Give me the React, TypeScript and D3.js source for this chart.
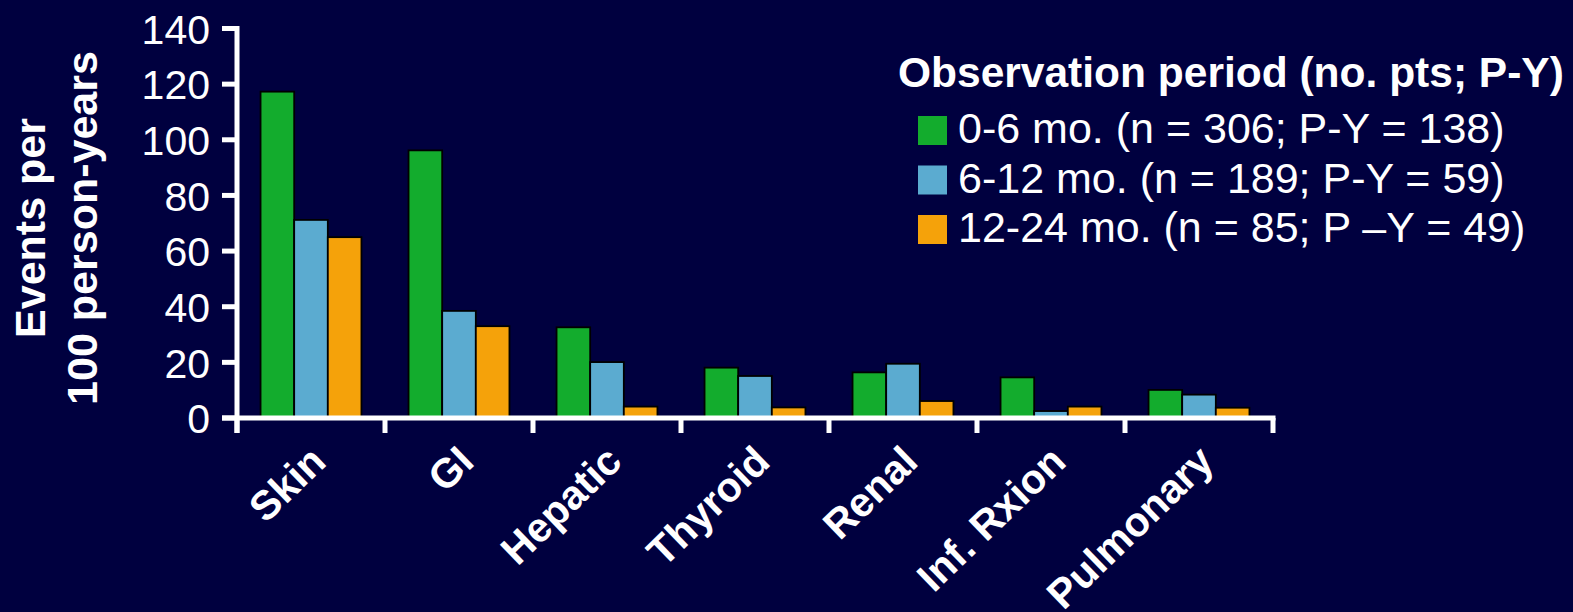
import React from "react";
import * as d3 from "d3";

const categories = ["Skin", "GI", "Hepatic", "Thyroid", "Renal", "Inf. Rxion", "Pulmonary"];
const seriesKeys = ["0-6", "6-12", "12-24"];
const seriesLabels = [
  "0-6 mo. (n = 306; P-Y = 138)",
  "6-12 mo. (n = 189; P-Y = 59)",
  "12-24 mo. (n = 85; P \u2013Y = 49)",
];
const values0to6 = [117.3, 96.2, 32.6, 18.1, 16.4, 14.6, 10.1];
const values6to12 = [71.2, 38.5, 20.1, 15.1, 19.5, 2.5, 8.4];
const values12to24 = [65, 33, 4.1, 3.8, 6.1, 4.1, 3.7];
const yTicks = [0, 20, 40, 60, 80, 100, 120, 140];
const legendTitle = "Observation period (no. pts; P-Y)";
const yTitleLines = ["Events per", "100 person-years"];

const colors = ["#13AC2D", "#5BABD0", "#F5A20A"];
const BG = "#00003F";
const FONT = "'Liberation Sans', Arial, Helvetica, sans-serif";

export default function App() {
  const W = 1573;
  const H = 612;
  const x0 = 237;
  const x1 = 1273;
  const yBase = 418;
  const yTop = 28.5;

  const series = [values0to6, values6to12, values12to24];

  const x = d3.scaleBand<string>().domain(categories).range([x0, x1]).paddingInner(0).paddingOuter(0);
  const xs = d3
    .scaleBand<string>()
    .domain(seriesKeys)
    .range([0, x.bandwidth()])
    .paddingInner(0)
    .paddingOuter(0.7);
  const y = d3.scaleLinear().domain([0, 140]).range([yBase, yTop]);

  const boundaries = [...categories.map((c) => x(c)!), x1];

  return (
    <svg
      width={W}
      height={H}
      style={{ position: "absolute", left: 0, top: 0, background: BG, display: "block" }}
      fontFamily={FONT}
    >
      <rect x={0} y={0} width={W} height={H} fill={BG} />

      {/* Bars */}
      {categories.map((c, i) => (
        <g key={c}>
          {series.map((vals, s) => (
            <rect
              key={s}
              x={x(c)! + xs(seriesKeys[s])!}
              y={y(vals[i])}
              width={xs.bandwidth()}
              height={yBase - y(vals[i])}
              fill={colors[s]}
              stroke="#000"
              strokeWidth={1.8}
            />
          ))}
        </g>
      ))}

      {/* Y axis */}
      <line x1={x0} x2={x0} y1={y(140) - 2.5} y2={yBase + 15} stroke="#fff" strokeWidth={5} />
      {yTicks.map((t) => (
        <g key={t}>
          <line x1={x0 - 15} x2={x0} y1={y(t)} y2={y(t)} stroke="#fff" strokeWidth={5} />
          <text x={210} y={y(t)} dy="0.37em" textAnchor="end" fill="#fff" fontSize={41}>
            {t}
          </text>
        </g>
      ))}

      {/* X axis */}
      <line x1={x0 - 15} x2={x1 + 2.5} y1={yBase} y2={yBase} stroke="#fff" strokeWidth={5} />
      {boundaries.map((b, i) => (
        <line key={i} x1={b} x2={b} y1={yBase} y2={yBase + 15} stroke="#fff" strokeWidth={5} />
      ))}
      {categories.map((c) => {
        const cx = x(c)! + x.bandwidth() / 2 + 17;
        const cy = 464;
        return (
          <text
            key={c}
            x={cx}
            y={cy}
            transform={`rotate(-44 ${cx} ${cy})`}
            textAnchor="end"
            fill="#fff"
            fontWeight="bold"
            fontSize={41}
          >
            {c}
          </text>
        );
      })}

      {/* Y title */}
      {yTitleLines.map((l, i) => {
        const tx = 45 + i * 52;
        const ty = 228;
        return (
          <text
            key={i}
            x={tx}
            y={ty}
            transform={`rotate(-90 ${tx} ${ty})`}
            textAnchor="middle"
            fill="#fff"
            fontWeight="bold"
            fontSize={43}
          >
            {l}
          </text>
        );
      })}

      {/* Legend */}
      <text x={898} y={87} fill="#fff" fontWeight="bold" fontSize={42.5}>
        {legendTitle}
      </text>
      {seriesLabels.map((l, i) => {
        const by = 143 + i * 49.5;
        return (
          <g key={i}>
            <rect x={918} y={by - 27} width={29} height={29} fill={colors[i]} />
            <text x={958} y={by} fill="#fff" fontSize={43}>
              {l}
            </text>
          </g>
        );
      })}
    </svg>
  );
}
